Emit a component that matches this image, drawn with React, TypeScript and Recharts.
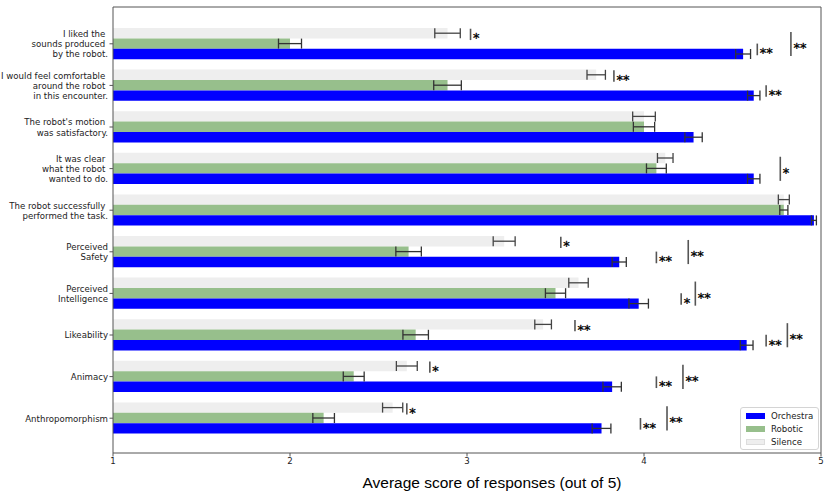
import React from 'react';
import { BarChart, Bar, XAxis, YAxis, ErrorBar, Legend, LabelList } from 'recharts';

const questions = [
  'I liked the \nsounds produced \nby the robot.',
  'I would feel comfortable \naround the robot \nin this encounter.',
  "The robot's motion \nwas satisfactory.",
  'It was clear \nwhat the robot \nwanted to do.',
  'The robot successfully \nperformed the task.',
  'Perceived\nSafety',
  'Perceived\nIntelligence',
  'Likeability',
  'Animacy',
  'Anthropomorphism',
];

const silenceScores = [2.89, 3.73, 4.0, 4.12, 4.79, 3.21, 3.63, 3.43, 2.66, 2.58];
const roboticScores = [2.0, 2.89, 4.0, 4.07, 4.79, 2.67, 3.5, 2.71, 2.36, 2.19];
const orchestraScores = [4.56, 4.62, 4.28, 4.62, 4.96, 3.86, 3.97, 4.58, 3.82, 3.76];

const silenceErr = [0.072, 0.052, 0.064, 0.044, 0.031, 0.062, 0.055, 0.047, 0.059, 0.057];
const roboticErr = [0.065, 0.078, 0.06, 0.056, 0.023, 0.072, 0.057, 0.072, 0.059, 0.061];
const orchestraErr = [0.042, 0.035, 0.049, 0.035, 0.014, 0.04, 0.055, 0.036, 0.052, 0.053];

const xTicks = [1, 2, 3, 4, 5];

// significance markers: row, x position (score units), stars, which bars the bracket covers
type Mark = { row: number; x: number; stars: string; span: 'top' | 'low' | 'long' };
const marks: Mark[] = [
  { row: 0, x: 3.02, stars: '*', span: 'top' },
  { row: 0, x: 4.64, stars: '**', span: 'low' },
  { row: 0, x: 4.83, stars: '**', span: 'long' },
  { row: 1, x: 3.83, stars: '**', span: 'top' },
  { row: 1, x: 4.69, stars: '**', span: 'low' },
  { row: 3, x: 4.77, stars: '*', span: 'long' },
  { row: 5, x: 3.53, stars: '*', span: 'top' },
  { row: 5, x: 4.07, stars: '**', span: 'low' },
  { row: 5, x: 4.25, stars: '**', span: 'long' },
  { row: 6, x: 4.21, stars: '*', span: 'low' },
  { row: 6, x: 4.29, stars: '**', span: 'long' },
  { row: 7, x: 3.61, stars: '**', span: 'top' },
  { row: 7, x: 4.69, stars: '**', span: 'low' },
  { row: 7, x: 4.81, stars: '**', span: 'long' },
  { row: 8, x: 2.79, stars: '*', span: 'top' },
  { row: 8, x: 4.07, stars: '**', span: 'low' },
  { row: 8, x: 4.22, stars: '**', span: 'long' },
  { row: 9, x: 2.66, stars: '*', span: 'top' },
  { row: 9, x: 3.98, stars: '**', span: 'low' },
  { row: 9, x: 4.13, stars: '**', span: 'long' },
];

const legendOrder = ['Orchestra', 'Robotic', 'Silence'];

const data = questions.map((q, i) => ({
  question: q,
  silence: silenceScores[i],
  robotic: roboticScores[i],
  orchestra: orchestraScores[i],
  silenceErr: silenceErr[i],
  roboticErr: roboticErr[i],
  orchestraErr: orchestraErr[i],
}));

const FONT = 'DejaVu Sans, sans-serif';
const AXIS = '#555';

// bracket extents, in bar heights relative to the row centre
const spanExtent: Record<string, [number, number]> = {
  top: [-1.43, -0.34],
  low: [0.0, 1.12],
  long: [-1.12, 1.2],
};

const QuestionTick = (props: any) => {
  const { x, y, payload } = props;
  const lines = String(payload.value).split('\n');
  const lh = 10.2;
  return (
    <text x={x} y={y} textAnchor="end" fontFamily={FONT} fontSize={8.6} fill="#222" style={{ whiteSpace: 'pre' }}>
      {lines.map((l, i) => (
        <tspan key={i} x={x} y={y + (i - (lines.length - 1) / 2) * lh + 3.4}>
          {l}
        </tspan>
      ))}
    </text>
  );
};

// drawn from the middle (Robotic) bar of each row, so the bar's own scale places the marks
const renderMarks = (props: any) => {
  const vb = props.viewBox || props;
  const { x, y, width, height } = vb;
  const idx = props.index;
  const value = roboticScores[idx];
  if (x == null || !width || value == null) return null;
  const unit = width / (value - 1);
  const cy = y + height / 2;
  return (
    <g>
      {marks
        .filter((m) => m.row === idx)
        .map((m, k) => {
          const px = x + (m.x - 1) * unit;
          const [a, b] = spanExtent[m.span];
          const y0 = cy + a * height;
          const y1 = cy + b * height;
          const mid = (y0 + y1) / 2;
          return (
            <g key={k}>
              <line x1={px} x2={px} y1={y0} y2={y1} stroke="#555" strokeWidth={1.6} />
              <text
                x={px + 2.5}
                y={mid + 8}
                fontFamily={FONT}
                fontSize={13}
                fill="#000"
                stroke="#000"
                strokeWidth={0.35}
              >
                {m.stars}
              </text>
            </g>
          );
        })}
    </g>
  );
};

const renderLegend = (props: any) => {
  const items = [...(props.payload || [])].sort(
    (p: any, q: any) => legendOrder.indexOf(p.value) - legendOrder.indexOf(q.value)
  );
  return (
    <div
      style={{
        border: '1px solid #d4d4d4',
        borderRadius: 3,
        background: 'rgba(255,255,255,0.85)',
        padding: '1px 4px 1px 5px',
        fontFamily: FONT,
        fontSize: 8.6,
        color: '#222',
      }}
    >
      {items.map((it: any) => (
        <div key={it.value} style={{ display: 'flex', alignItems: 'center', height: 13 }}>
          <span
            style={{
              display: 'inline-block',
              width: 19,
              height: 6,
              background: it.color,
              marginRight: 6,
              boxSizing: 'border-box',
              border: it.value === 'Silence' ? '0.5px solid #ddd' : 'none',
            }}
          />
          <span>{it.value}</span>
        </div>
      ))}
    </div>
  );
};

export default function App() {
  return (
    <div style={{ position: 'absolute', left: 0, top: 0, width: 830, height: 493, background: '#fff' }}>
      <BarChart
        width={830}
        height={493}
        data={data}
        layout="vertical"
        margin={{ top: 6, right: 8, left: 0, bottom: 0 }}
        barSize={10.4}
        barGap={0}
      >
        <XAxis
          type="number"
          domain={[1, 5]}
          ticks={xTicks}
          allowDataOverflow
          height={40}
          tickSize={3.5}
          tickMargin={1.5}
          stroke={AXIS}
          tick={{ fontFamily: FONT, fontSize: 8.6, fill: '#222' }}
          label={{
            value: 'Average score of responses (out of 5)',
            position: 'insideBottom',
            offset: 5,
            dx: 25,
            style: { fontFamily: 'Liberation Sans, Arial, sans-serif', fontSize: 15.5, fill: '#000' },
          }}
        />
        <XAxis
          xAxisId="top"
          orientation="top"
          type="number"
          domain={[1, 5]}
          height={1}
          tick={false}
          tickLine={false}
          stroke={AXIS}
        />
        <YAxis
          type="category"
          dataKey="question"
          width={113}
          interval={0}
          tickSize={3.5}
          tickMargin={1.5}
          stroke={AXIS}
          padding={{ top: 16, bottom: 14 }}
          tick={<QuestionTick />}
        />
        <YAxis
          yAxisId="right"
          orientation="right"
          type="category"
          dataKey="question"
          width={1}
          tick={false}
          tickLine={false}
          stroke={AXIS}
        />
        <Legend
          layout="vertical"
          align="center"
          verticalAlign="middle"
          content={renderLegend}
          wrapperStyle={{ left: 740, top: 407, width: 79, height: 'auto' }}
        />
        <Bar dataKey="silence" name="Silence" fill="#eeeeee" isAnimationActive={false}>
          <ErrorBar dataKey="silenceErr" direction="x" width={5} stroke="#444" strokeWidth={1.3} />
        </Bar>
        <Bar dataKey="robotic" name="Robotic" fill="#97bf8c" isAnimationActive={false}>
          <ErrorBar dataKey="roboticErr" direction="x" width={5} stroke="#333" strokeWidth={1.3} />
          <LabelList dataKey="robotic" content={renderMarks} />
        </Bar>
        <Bar dataKey="orchestra" name="Orchestra" fill="#0000ff" isAnimationActive={false}>
          <ErrorBar dataKey="orchestraErr" direction="x" width={5} stroke="#333" strokeWidth={1.3} />
        </Bar>
      </BarChart>
    </div>
  );
}
